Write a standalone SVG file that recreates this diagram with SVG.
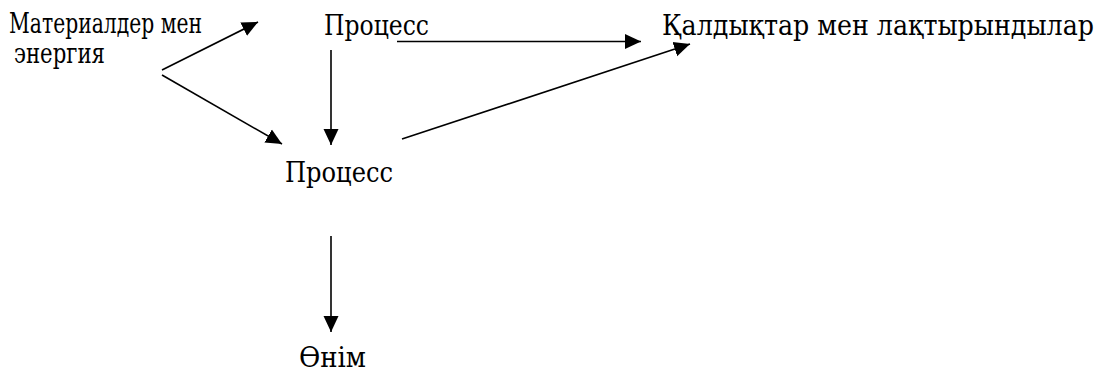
<svg xmlns="http://www.w3.org/2000/svg" width="1100" height="371" viewBox="0 0 1100 371">
  <style>
    text { font-family: "DejaVu Serif Condensed", "DejaVu Serif", serif; font-size: 27px; fill: #000; }
    .edge { stroke: #000; stroke-width: 1.6; fill: none; marker-end: url(#head); }
  </style>
  <defs>
    <marker id="head" markerUnits="userSpaceOnUse" markerWidth="16" markerHeight="16" viewBox="0 0 16 16" refX="16" refY="8" orient="auto">
      <path d="M0,0.5 L16,8 L0,15.5 Z" fill="#000"/>
    </marker>
  </defs>
  <rect width="1100" height="371" fill="#fff"/>

  <g id="node-materials">
    <text x="9" y="33" font-size="25" textLength="193" lengthAdjust="spacingAndGlyphs">Материалдер мен</text>
    <text x="14" y="63" textLength="91" lengthAdjust="spacingAndGlyphs">энергия</text>
  </g>
  <g id="node-process-1">
    <text x="324" y="35" textLength="105" lengthAdjust="spacingAndGlyphs">Процесс</text>
  </g>
  <g id="node-waste">
    <text x="662" y="35" font-size="28" textLength="432" lengthAdjust="spacingAndGlyphs">Қалдықтар мен лақтырындылар</text>
  </g>
  <g id="node-process-2">
    <text x="285" y="182" textLength="108" lengthAdjust="spacingAndGlyphs">Процесс</text>
  </g>
  <g id="node-product">
    <text x="299" y="367" textLength="67" lengthAdjust="spacingAndGlyphs">Өнім</text>
  </g>

  <g id="connectors">
    <line class="edge" x1="162" y1="70" x2="258" y2="22"/>
    <line class="edge" x1="162" y1="75" x2="282" y2="144"/>
    <line class="edge" x1="331" y1="50" x2="331" y2="145"/>
    <line class="edge" x1="397" y1="41.5" x2="641" y2="41.5"/>
    <line class="edge" x1="402" y1="139" x2="690" y2="44"/>
    <line class="edge" x1="331" y1="236" x2="331" y2="332"/>
  </g>
</svg>
